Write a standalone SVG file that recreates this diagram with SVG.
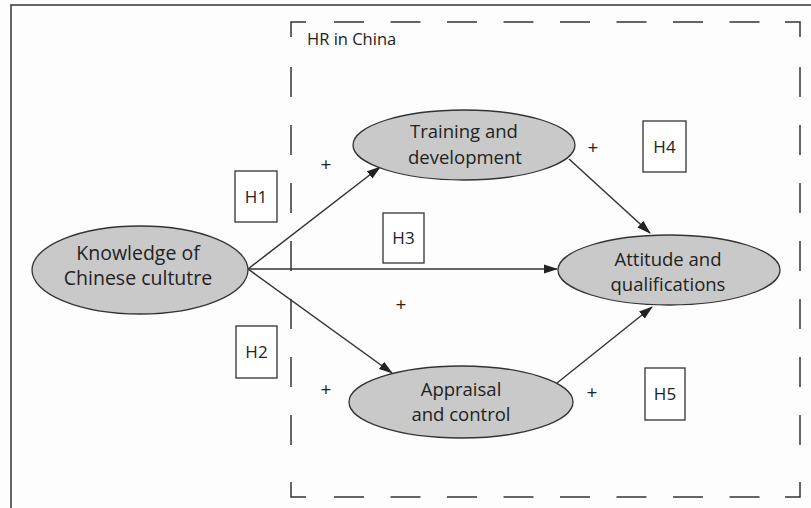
<svg xmlns="http://www.w3.org/2000/svg" width="811" height="508" viewBox="0 0 811 508">
<defs>
<marker id="ah" markerWidth="14" markerHeight="10" refX="13" refY="5" orient="auto" markerUnits="userSpaceOnUse">
<path d="M0,0.5 L14,5 L0,9.5 Z" fill="#222"/>
</marker>
<style>
.frame{stroke:#333;stroke-width:1.5;fill:none}
.dash{stroke:#333;stroke-width:1.5;fill:none}
.node ellipse{fill:#c9c9c9;stroke:#333;stroke-width:1.3}
.lbl{font-family:"Open Sans","Noto Sans",sans-serif;font-size:18.5px;fill:#222;text-anchor:middle}
.big{font-size:19.5px}
.hbox rect{fill:#fff;stroke:#333;stroke-width:1.3}
.hbox text{font-family:"Open Sans","Noto Sans",sans-serif;font-size:17px;fill:#222;text-anchor:middle}
.plus{font-family:"Open Sans","Noto Sans",sans-serif;font-size:19px;fill:#222;text-anchor:middle}
.title{font-family:"Open Sans","Noto Sans",sans-serif;font-size:16.5px;fill:#222}
.conn line{stroke:#333;stroke-width:1.5;marker-end:url(#ah)}
</style>
</defs>
<rect width="811" height="508" fill="#fdfdfd"/>
<g id="frame">
<path class="frame" d="M11,508 L11,5 L811,5"/>
</g>
<g id="hr-box">
<path class="dash" d="M291,37 L291,22 L306,22"/>
<path class="dash" d="M785,22 L800,22 L800,37"/>
<path class="dash" d="M291,482 L291,497 L306,497"/>
<path class="dash" d="M785,497 L800,497 L800,482"/>
<line class="dash" x1="334" y1="22" x2="770" y2="22" stroke-dasharray="30 26.5"/>
<line class="dash" x1="334" y1="497" x2="770" y2="497" stroke-dasharray="30 26.5"/>
<line class="dash" x1="291" y1="67" x2="291" y2="460" stroke-dasharray="30 28"/>
<line class="dash" x1="800" y1="67" x2="800" y2="460" stroke-dasharray="30 28"/>
<text class="title" x="307" y="45">HR in China</text>
</g>
<g id="connectors" class="conn">
<line x1="248" y1="269" x2="380" y2="167"/>
<line x1="248" y1="269" x2="557" y2="269"/>
<line x1="248" y1="269" x2="392" y2="373"/>
<line x1="569" y1="159" x2="650" y2="233"/>
<line x1="557" y1="383" x2="652" y2="307"/>
</g>
<g id="knowledge" class="node">
<ellipse cx="140" cy="270" rx="108" ry="44"/>
<text class="lbl big" x="138" y="260">Knowledge of</text>
<text class="lbl big" x="138" y="285">Chinese cultutre</text>
</g>
<g id="training" class="node">
<ellipse cx="464" cy="145" rx="111" ry="35"/>
<text class="lbl" x="464" y="138">Training and</text>
<text class="lbl" x="465" y="164">development</text>
</g>
<g id="appraisal" class="node">
<ellipse cx="461" cy="402" rx="112" ry="36"/>
<text class="lbl" x="461" y="396">Appraisal</text>
<text class="lbl" x="461" y="421">and control</text>
</g>
<g id="attitude" class="node">
<ellipse cx="669" cy="270" rx="111" ry="35"/>
<text class="lbl" x="668" y="266">Attitude and</text>
<text class="lbl" x="668" y="291">qualifications</text>
</g>
<g id="h1" class="hbox"><rect x="235" y="171" width="42" height="51"/><text x="256" y="202.5">H1</text></g>
<g id="h2" class="hbox"><rect x="236" y="326" width="41" height="52"/><text x="256.5" y="358">H2</text></g>
<g id="h3" class="hbox"><rect x="383" y="213" width="41" height="50"/><text x="403.5" y="244">H3</text></g>
<g id="h4" class="hbox"><rect x="643" y="121" width="43" height="51"/><text x="664.5" y="152.5">H4</text></g>
<g id="h5" class="hbox"><rect x="645" y="368" width="40" height="52"/><text x="665" y="400">H5</text></g>
<g id="signs">
<text class="plus" x="326" y="171">+</text>
<text class="plus" x="593" y="154">+</text>
<text class="plus" x="401" y="311">+</text>
<text class="plus" x="326" y="396">+</text>
<text class="plus" x="592" y="399">+</text>
</g>
</svg>
